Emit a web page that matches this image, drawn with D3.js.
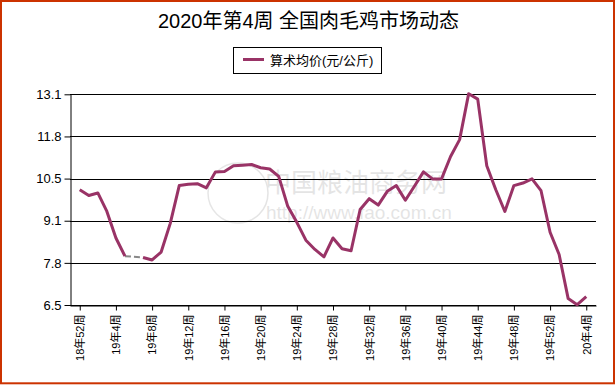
<!DOCTYPE html>
<html>
<head>
<meta charset="utf-8">
<script src="https://cdn.jsdelivr.net/npm/d3@7"></script>
<style>
  html, body { margin: 0; padding: 0; background: #fff; }
  svg { display: block; }
  text { font-family: Arial, "Liberation Sans", "Noto Sans CJK SC", sans-serif; }
</style>
</head>
<body>
<svg id="chart" width="615" height="385"></svg>
<script>
const titleText = "2020年第4周 全国肉毛鸡市场动态";
const seriesName = "算术均价(元/公斤)";

const weeks = [
  "18年52周",
  "19年1周","19年2周","19年3周","19年4周","19年5周","19年6周","19年7周","19年8周",
  "19年9周","19年10周","19年11周","19年12周","19年13周","19年14周","19年15周","19年16周",
  "19年17周","19年18周","19年19周","19年20周","19年21周","19年22周","19年23周","19年24周",
  "19年25周","19年26周","19年27周","19年28周","19年29周","19年30周","19年31周","19年32周",
  "19年33周","19年34周","19年35周","19年36周","19年37周","19年38周","19年39周","19年40周",
  "19年41周","19年42周","19年43周","19年44周","19年45周","19年46周","19年47周","19年48周",
  "19年49周","19年50周","19年51周","19年52周",
  "20年1周","20年2周","20年3周","20年4周"
];

const prices = [
  10.11,
  9.93, 10.01, 9.43, 8.60, 8.03, null, 7.99, 7.91,
  8.16, 9.05, 10.24, 10.28, 10.30, 10.17, 10.67, 10.68,
  10.86, 10.88, 10.90, 10.80, 10.76, 10.53, 9.59, 9.09,
  8.53, 8.24, 8.01, 8.60, 8.26, 8.20, 9.49, 9.83,
  9.63, 10.06, 10.24, 9.78, 10.22, 10.67, 10.45, 10.45,
  11.15, 11.68, 13.12, 12.95, 10.86, 10.11, 9.43, 10.24,
  10.32, 10.45, 10.08, 8.78,
  8.08, 6.70, 6.51, 6.76
];

const xTickLabels = ["18年52周","19年4周","19年8周","19年12周","19年16周","19年20周","19年24周",
  "19年28周","19年32周","19年36周","19年40周","19年44周","19年48周","19年52周","20年4周"];
const yTicks = [6.5, 7.82, 9.14, 10.46, 11.78, 13.1];

const svg = d3.select("#chart");
const W = 615, H = 385;
const plot = { left: 70, right: 596, top: 94.3, bottom: 305 };

// outer border
svg.append("rect")
  .attr("x", 1).attr("y", 1).attr("width", 613).attr("height", 382.3)
  .attr("fill", "#fff").attr("stroke", "#cc3300").attr("stroke-width", 2);

// title
svg.append("text")
  .attr("x", W / 2 + 1).attr("y", 28)
  .attr("text-anchor", "middle")
  .attr("font-size", 20)
  .attr("fill", "#000")
  .text(titleText);

// legend
const lg = svg.append("g");
lg.append("rect").attr("x", 233.5).attr("y", 47.5).attr("width", 148).attr("height", 26)
  .attr("fill", "#fff").attr("stroke", "#000").attr("stroke-width", 1);
lg.append("line").attr("x1", 243).attr("x2", 264).attr("y1", 59.5).attr("y2", 59.5)
  .attr("stroke", "#993366").attr("stroke-width", 3);
lg.append("text").attr("x", 270).attr("y", 64.5).attr("font-size", 13).attr("fill", "#000")
  .text(seriesName);

// scales
const x = d3.scalePoint().domain(weeks).range([plot.left, plot.right]).padding(1.077);
const y = d3.scaleLinear().domain([6.5, 13.1]).range([plot.bottom, plot.top]);

// watermark (faint)
const wm = svg.append("g").attr("opacity", 0.1);
wm.append("circle").attr("cx", 238).attr("cy", 193).attr("r", 30)
  .attr("fill", "none").attr("stroke", "#000").attr("stroke-width", 1.5);
wm.append("text").attr("x", 265).attr("y", 192).attr("font-size", 26).attr("fill", "#000")
  .text("中国粮油商务网");
wm.append("text").attr("x", 266).attr("y", 219).attr("font-size", 19).attr("fill", "#000")
  .text("http://www.fao.com.cn");

// gridlines
svg.append("g").selectAll("line").data(yTicks).join("line")
  .attr("x1", plot.left).attr("x2", plot.right)
  .attr("y1", d => Math.round(y(d)) + 0.5).attr("y2", d => Math.round(y(d)) + 0.5)
  .attr("stroke", "#000").attr("stroke-width", 1);

// y axis
const yAxis = svg.append("g").attr("transform", `translate(${plot.left + 0.5},0)`)
  .call(d3.axisLeft(y).tickValues(yTicks).tickFormat(d3.format(".1f")).tickSize(6).tickSizeOuter(0));
yAxis.select(".domain").attr("stroke", "#000");
yAxis.selectAll(".tick line").attr("stroke", "#000");
yAxis.selectAll(".tick text").attr("font-size", 13).attr("fill", "#000").attr("x", -9)
  .attr("font-family", "Arial, 'Liberation Sans', sans-serif");

// x axis
const xAxis = svg.append("g").attr("transform", `translate(0,${Math.round(plot.bottom) + 0.5})`)
  .call(d3.axisBottom(x).tickValues(xTickLabels).tickSize(5).tickSizeOuter(0));
xAxis.select(".domain").attr("stroke", "#000");
xAxis.selectAll(".tick line").attr("stroke", "#000");
xAxis.selectAll(".tick text")
  .attr("font-size", 11).attr("fill", "#000")
  .attr("transform", "rotate(-90)")
  .attr("text-anchor", "end")
  .attr("x", -9).attr("y", 0).attr("dy", "0.35em");

// data
const pts = weeks.map((w, i) => ({ w, v: prices[i], i }));

// gap connector (dashed gray)
const gapSegs = [];
for (let i = 0; i < pts.length; i++) {
  if (pts[i].v == null) {
    let a = i - 1, b = i + 1;
    while (b < pts.length && pts[b].v == null) b++;
    if (a >= 0 && b < pts.length) gapSegs.push([pts[a], pts[b]]);
  }
}
svg.append("g").selectAll("path").data(gapSegs).join("path")
  .attr("d", d3.line().x(d => x(d.w)).y(d => y(d.v)))
  .attr("fill", "none").attr("stroke", "#888").attr("stroke-width", 2)
  .attr("stroke-dasharray", "6,3");

// main line
svg.append("path").datum(pts)
  .attr("d", d3.line().defined(d => d.v != null).x(d => x(d.w)).y(d => y(d.v)))
  .attr("fill", "none").attr("stroke", "#993366").attr("stroke-width", 3)
  .attr("stroke-linejoin", "round");
</script>
</body>
</html>
